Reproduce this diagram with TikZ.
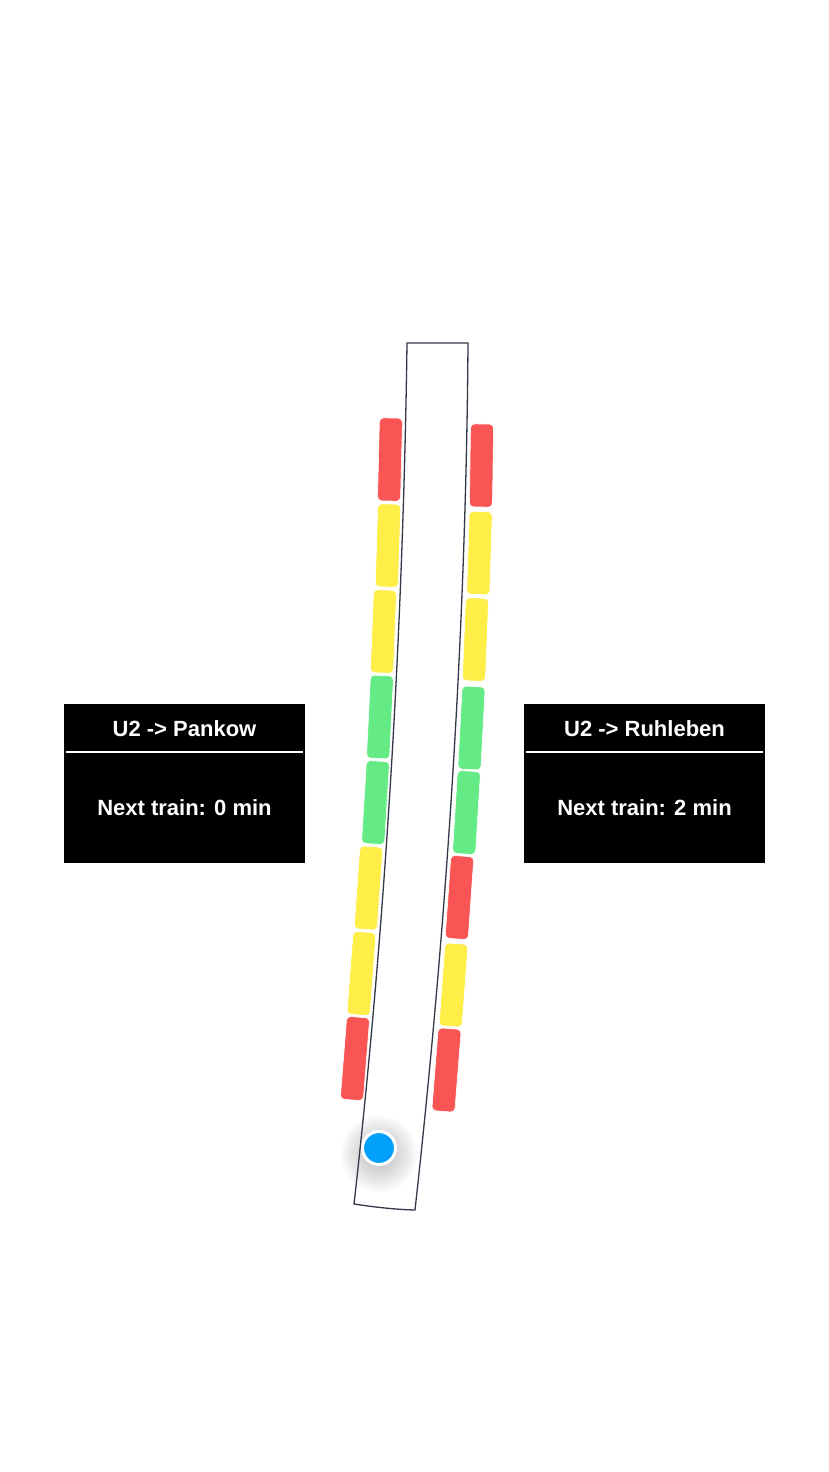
\documentclass[tikz,border=0pt]{standalone}
\usepackage{fontspec}
\setmainfont{Liberation Sans}
\usetikzlibrary{positioning, calc}
\definecolor{bayred}{RGB}{250, 85, 85}
\definecolor{bayyellow}{RGB}{255, 237, 72}
\definecolor{baygreen}{RGB}{100, 235, 133}
\definecolor{dotblue}{RGB}{2, 160, 250}
\definecolor{edgegray}{RGB}{50, 56, 70}

\begin{document}
\begin{tikzpicture}[x=1pt, y=-1pt,
  bay/.style={rectangle, rounded corners=4pt, draw=white, line width=0.6pt, minimum width=23pt, minimum height=83pt, inner sep=0pt},
  board/.style={rectangle, fill=black, minimum width=241pt, minimum height=159pt, inner sep=0pt},
  boardtext/.style={text=white, font=\fontsize{22}{26}\selectfont\bfseries, inner sep=0pt, anchor=base}
]
  \useasboundingbox (0,0) rectangle (828,1472);

  % Shadow under the position dot
  \foreach \r in {14,17,...,38} {
    \fill[black, opacity=0.022] (379,1154) circle (\r);
  }

  % Platform
  \draw[edgegray, line width=1.3pt] (407,343) -- (468,343)
    .. controls (466,640) and (445,940) .. (415,1210)
    .. controls (395,1209.5) and (374,1207) .. (354,1204)
    .. controls (384,940) and (403,640) .. (407,343) -- cycle;

  % Left track
  \foreach \x/\y/\a/\col [count=\i] in {390/459.5/-1.4/bayred, 388/545.5/-1.8/bayyellow, 383.5/631.5/-2.3/bayyellow, 380/717/-2.8/baygreen, 375.5/802.5/-3.5/baygreen, 368.5/888/-4/bayyellow, 361.5/973.5/-4.3/bayyellow, 355/1058.5/-4.5/bayred} {
    \node[bay, fill=\col, rotate=\a] (l\i) at (\x, \y) {};
  }

  % Right track
  \foreach \x/\y/\a/\col [count=\i] in {481.5/465.5/-0.8/bayred, 479.5/553/-1.8/bayyellow, 475.5/639.5/-2.3/bayyellow, 471.5/728/-3/baygreen, 466.5/812.5/-3.5/baygreen, 459.5/897.5/-4/bayred, 453.5/985/-4.2/bayyellow, 446.5/1070/-4.5/bayred} {
    \node[bay, fill=\col, rotate=\a] (r\i) at (\x, \y) {};
  }

  % Position
  \node[circle, fill=dotblue, draw=white, line width=3pt, minimum size=33pt, inner sep=0pt] (me) at (379,1148) {};

  % Boards
  \node[board] (pankow) at (184.5, 783.5) {};
  \node[boardtext] (pankowtitle) at ($(pankow.north)+(0,33)$) {U2 -> Pankow};
  \draw[white, line width=2pt] ($(pankow.north west)+(2,48)$) -- ($(pankow.north east)+(-2,48)$);
  \node[boardtext] (pankownext) at ($(pankow.north)+(0,112)$) {Next train: 0 min};

  \node[board] (ruhleben) at (644.5, 783.5) {};
  \node[boardtext] (ruhlebentitle) at ($(ruhleben.north)+(0,33)$) {U2 -> Ruhleben};
  \draw[white, line width=2pt] ($(ruhleben.north west)+(2,48)$) -- ($(ruhleben.north east)+(-2,48)$);
  \node[boardtext] (ruhlebennext) at ($(ruhleben.north)+(0,112)$) {Next train: 2 min};
\end{tikzpicture}
\end{document}
